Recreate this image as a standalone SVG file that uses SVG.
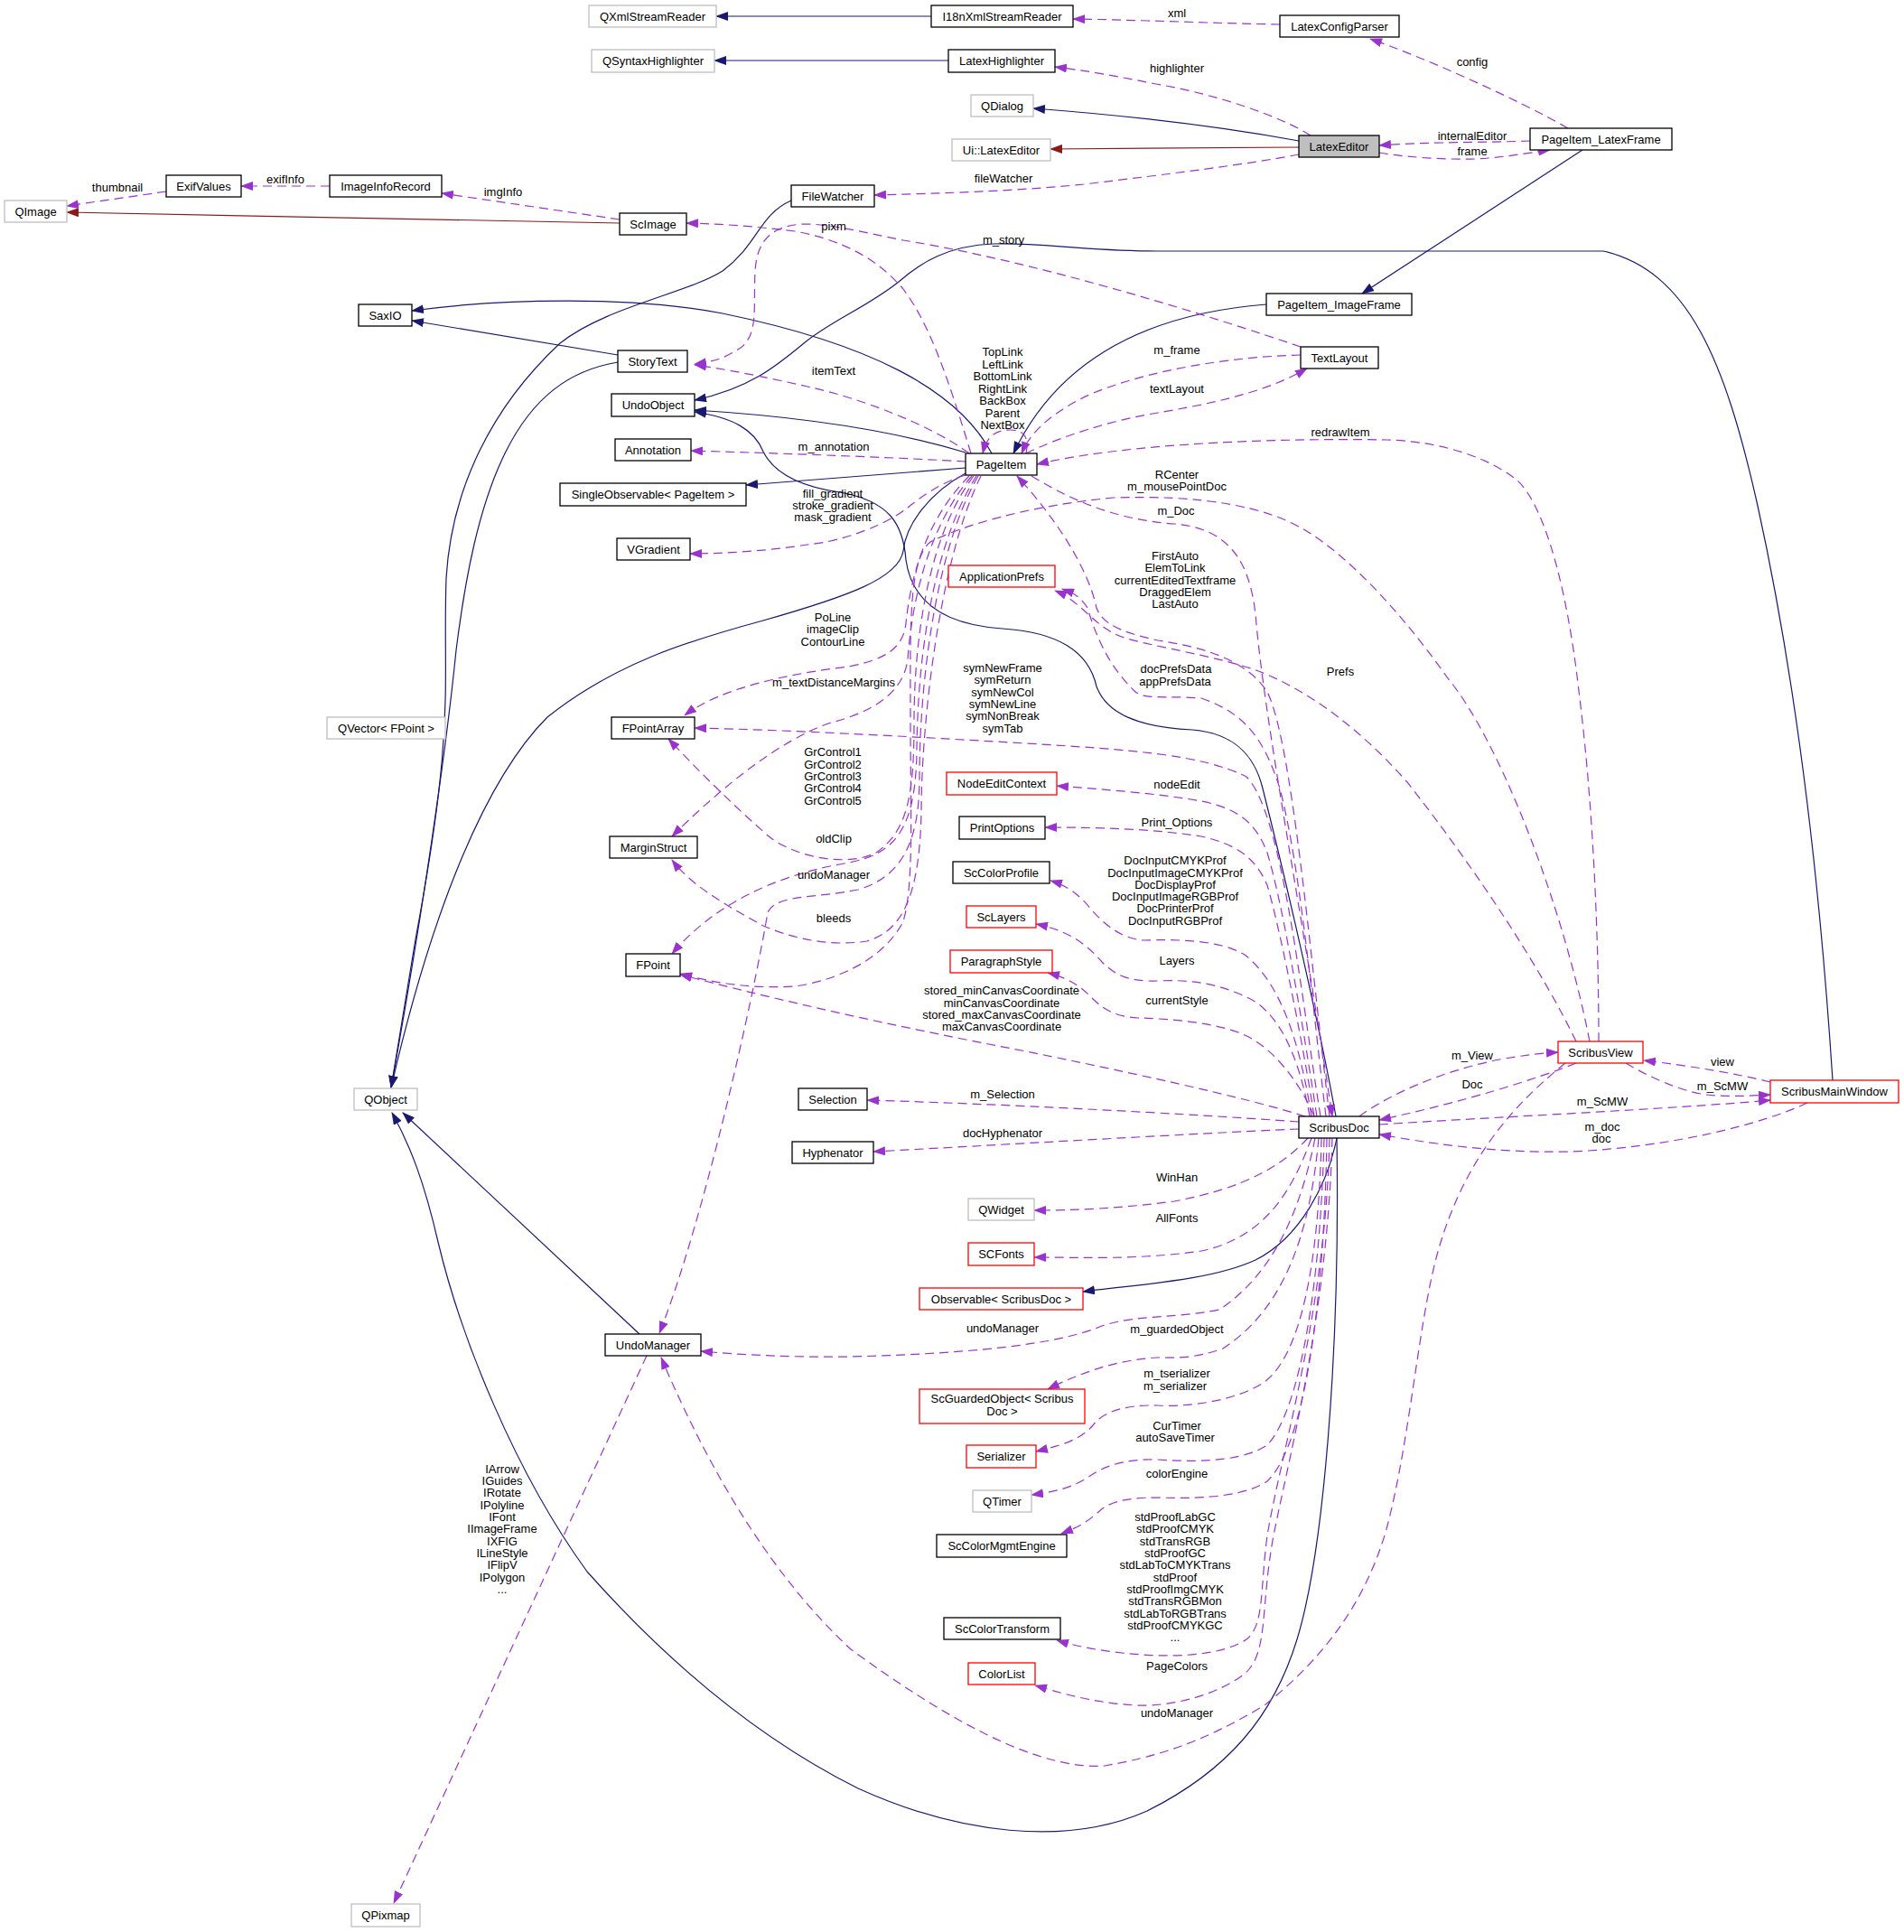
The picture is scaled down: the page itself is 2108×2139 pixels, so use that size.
<svg xmlns="http://www.w3.org/2000/svg" width="2108" height="2139" viewBox="0 0 2108 2139">
<style>
text{font-family:"Liberation Sans",Arial,Helvetica,sans-serif;font-size:13px;text-anchor:middle;fill:#000}
.n rect{fill:#fff;stroke:#000;stroke-width:1.3}
.g rect{stroke:#bfbfbf}
.r rect{stroke:#ff0000}
.c rect{fill:#bfbfbf}
.e{fill:none;stroke:#191970;stroke-width:1.2;marker-end:url(#aN)}
.k{fill:none;stroke:#8b1a1a;stroke-width:1.2;marker-end:url(#aR)}
.d{fill:none;stroke:#9a32cd;stroke-width:1.2;stroke-dasharray:10,6;marker-end:url(#aP)}
</style>
<defs>
<marker id="aN" viewBox="0 0 14 10" refX="13" refY="5" markerWidth="14" markerHeight="10" markerUnits="userSpaceOnUse" orient="auto"><path d="M0,0 L14,5 L0,10 z" fill="#191970"/></marker>
<marker id="aR" viewBox="0 0 14 10" refX="13" refY="5" markerWidth="14" markerHeight="10" markerUnits="userSpaceOnUse" orient="auto"><path d="M0,0 L14,5 L0,10 z" fill="#8b1a1a"/></marker>
<marker id="aP" viewBox="0 0 14 10" refX="13" refY="5" markerWidth="14" markerHeight="10" markerUnits="userSpaceOnUse" orient="auto"><path d="M0,0 L14,5 L0,10 z" fill="#9a32cd"/></marker>
</defs>
<rect width="2108" height="2139" fill="#fff"/>
<g id="edges">
<path class="e" d="M1031,18 L793,18"/>
<path class="e" d="M1050,67 L791,67"/>
<path class="e" d="M1438,156 C1350,140 1250,128 1144,120"/>
<path class="k" d="M1438,163 L1163,165"/>
<path class="e" d="M1752,166 L1508,325"/>
<path class="e" d="M1402,337 C1300,345 1180,380 1122,502"/>
<path class="k" d="M686,247 L74,235"/>
<path class="e" d="M1098,502 C1060,430 960,380 800,347 C700,328 560,330 456,344"/>
<path class="e" d="M684,393 L456,355"/>
<path class="e" d="M876,222 C840,238 840,270 800,300 C760,325 670,340 620,380 C545,450 500,540 494,640 C490,760 505,800 460,1040 L433,1204"/>
<path class="e" d="M684,401 C630,410 590,440 560,500 C530,560 515,640 505,720 C495,820 470,1000 433,1204"/>
<path class="e" d="M1069,524 C1030,545 1003,580 1000,610 C995,640 940,660 845,687 C760,710 680,735 606,794 C540,860 480,1000 433,1204"/>
<path class="e" d="M1069,501 C1000,480 900,462 769,454"/>
<path class="e" d="M1069,518 L826,537"/>
<path class="e" d="M1479,1236 C1460,1130 1420,960 1398,873 C1390,840 1370,812 1320,808 C1260,805 1225,790 1214,760 C1205,720 1170,700 1110,696 C1050,692 1010,670 1003,620 C1000,580 985,555 930,545 C880,538 855,520 845,500 C835,475 810,462 769,456"/>
<path class="e" d="M2029,1196 C2015,980 1990,760 1946,560 C1910,400 1870,300 1775,278 L1281,278 C1200,278 1150,268 1100,270 C1050,272 1020,290 995,312 C960,340 920,355 890,380 C860,405 830,430 769,443"/>
<path class="e" d="M708,1477 L446,1232"/>
<path class="e" d="M1480,1260 C1484,1500 1465,1720 1436,1815 C1410,1900 1360,1960 1270,2005 C1180,2045 1060,2030 950,1980 C830,1920 730,1830 650,1740 C570,1630 510,1480 485,1375 C470,1310 455,1270 434,1232"/>
<path class="e" d="M1480,1260 C1470,1310 1440,1370 1390,1395 C1340,1418 1260,1422 1199,1430"/>
<path class="d" d="M1417,27 C1350,26 1260,22 1188,21"/>
<path class="d" d="M1451,150 C1420,130 1350,105 1280,93 C1230,83 1200,78 1168,74"/>
<path class="d" d="M1736,142 C1680,110 1580,65 1517,43"/>
<path class="d" d="M1694,156 C1640,158 1580,157 1527,161"/>
<path class="d" d="M1527,169 C1560,175 1620,178 1648,175 C1680,172 1700,168 1716,166"/>
<path class="d" d="M1438,171 C1380,182 1300,192 1200,204 C1120,212 1040,214 968,216"/>
<path class="d" d="M184,212 L74,228"/>
<path class="d" d="M365,206 L267,206"/>
<path class="d" d="M686,243 L489,214"/>
<path class="d" d="M1075,502 C1050,420 1030,360 1000,320 C970,285 930,265 880,256 C830,250 800,248 760,247"/>
<path class="d" d="M1440,384 C1340,350 1150,290 1000,266 C950,256 920,248 890,248 C850,250 838,270 836,300 C834,340 840,370 820,385 C800,398 790,400 769,403"/>
<path class="d" d="M1073,502 C1030,470 950,440 894,428 C850,418 800,408 769,404"/>
<path class="d" d="M1069,511 C1000,507 900,503 765,499"/>
<path class="d" d="M1136,502 C1140,482 1132,476 1118,476 C1100,476 1092,485 1088,502"/>
<path class="d" d="M1440,393 C1330,396 1233,421 1190,445 C1160,462 1140,480 1131,502"/>
<path class="d" d="M1136,502 C1170,485 1230,465 1282,457 C1340,447 1400,435 1447,408"/>
<path class="d" d="M1770,1153 C1770,1050 1765,900 1748,765 C1735,650 1710,560 1680,532 C1640,500 1580,488 1535,487 C1420,485 1250,490 1148,514"/>
<path class="d" d="M1760,1153 C1730,1000 1660,820 1603,751 C1560,690 1500,620 1445,587 C1400,560 1330,548 1233,551 C1136,560 1063,583 1030,600 C1005,620 1008,700 1008,800 C1008,900 1012,980 1000,1020 C980,1060 930,1085 880,1092 C830,1095 790,1088 753,1078"/>
<path class="d" d="M1745,1153 C1710,1080 1640,970 1558,866 C1500,800 1440,760 1388,741 C1330,722 1250,712 1233,701 C1210,690 1195,665 1168,654"/>
<path class="d" d="M1468,1236 C1455,1130 1440,960 1417,873 C1400,820 1380,790 1330,773 C1290,770 1270,775 1257,766 C1230,740 1215,710 1204,673 C1195,660 1190,657 1176,652"/>
<path class="d" d="M1142,527 C1180,550 1230,575 1300,580 C1360,585 1383,620 1390,680 C1400,800 1440,1000 1475,1236"/>
<path class="d" d="M1472,1236 C1450,1050 1430,820 1403,766 C1380,730 1330,716 1282,709 C1240,700 1220,690 1214,673 C1205,630 1170,575 1126,527"/>
<path class="d" d="M1069,526 C1040,535 1020,550 1005,562 C980,582 930,600 894,603 C850,610 800,613 764,613"/>
<path class="d" d="M1073,527 C1025,575 1008,640 1003,690 C1000,718 980,730 940,738 C880,745 800,760 758,792"/>
<path class="d" d="M1076,527 C1030,580 1010,660 1005,730 C1000,770 960,790 920,800 C860,820 790,880 744,926"/>
<path class="d" d="M1078,527 C1030,590 1012,700 1012,800 C1012,880 1005,920 970,944 C940,960 880,950 850,925 C810,890 770,850 740,818"/>
<path class="d" d="M1081,527 C1035,600 1016,720 1015,830 C1014,920 990,945 940,955 C880,965 800,990 744,1056"/>
<path class="d" d="M1083,527 C1035,610 1018,760 1018,860 C1018,930 1000,970 950,985 C900,995 860,990 850,1010 C835,1100 780,1350 730,1476"/>
<path class="d" d="M1086,527 C1040,620 1020,800 1020,900 C1018,990 1000,1030 960,1042 C920,1048 880,1040 845,1025 C800,1000 765,980 744,952"/>
<path class="d" d="M1462,1236 C1440,1100 1420,900 1380,860 C1330,835 1250,830 1136,823 C1000,815 870,808 769,806"/>
<path class="d" d="M1458,1236 C1440,1120 1420,1000 1403,944 C1390,910 1370,895 1330,887 C1280,878 1220,874 1170,870"/>
<path class="d" d="M1455,1236 C1440,1140 1415,1020 1403,980 C1390,950 1370,935 1330,926 C1280,918 1220,916 1157,916"/>
<path class="d" d="M1452,1236 C1440,1160 1420,1090 1378,1057 C1350,1040 1300,1040 1267,1041 C1240,1040 1220,1020 1209,1008 C1195,990 1180,980 1163,975"/>
<path class="d" d="M1450,1236 C1440,1180 1420,1120 1378,1103 C1350,1090 1320,1084 1282,1086 C1250,1087 1235,1080 1220,1065 C1200,1042 1180,1030 1147,1023"/>
<path class="d" d="M1455,1236 C1440,1200 1410,1160 1378,1146 C1350,1133 1300,1128 1260,1127 C1230,1125 1220,1115 1210,1106 C1195,1090 1180,1082 1160,1077"/>
<path class="d" d="M1445,1236 C1380,1215 1240,1185 1136,1164 C1000,1138 880,1112 753,1079"/>
<path class="d" d="M1438,1242 C1300,1232 1100,1222 960,1218"/>
<path class="d" d="M1438,1250 C1300,1256 1100,1268 967,1275"/>
<path class="d" d="M1448,1260 C1420,1290 1380,1315 1300,1330 C1240,1338 1190,1340 1145,1340"/>
<path class="d" d="M1452,1260 C1430,1320 1400,1370 1330,1385 C1260,1395 1200,1392 1145,1392"/>
<path class="d" d="M1456,1260 C1440,1340 1410,1410 1350,1450 C1300,1460 1260,1455 1220,1468 C1180,1485 1100,1498 942,1502 C880,1503 820,1500 776,1496"/>
<path class="d" d="M1460,1260 C1450,1370 1420,1450 1354,1493 C1320,1505 1300,1503 1282,1503 C1240,1505 1200,1518 1160,1538"/>
<path class="d" d="M1463,1260 C1460,1400 1440,1500 1400,1530 C1370,1550 1320,1558 1282,1556 C1240,1555 1220,1565 1210,1578 C1195,1595 1175,1600 1147,1607"/>
<path class="d" d="M1466,1260 C1462,1420 1440,1560 1403,1600 C1380,1615 1340,1620 1282,1616 C1240,1615 1220,1625 1204,1636 C1185,1648 1165,1652 1142,1655"/>
<path class="d" d="M1469,1260 C1466,1440 1445,1600 1403,1640 C1380,1655 1340,1660 1282,1658 C1240,1658 1225,1665 1215,1675 C1200,1688 1190,1692 1175,1698"/>
<path class="d" d="M1472,1260 C1468,1450 1420,1600 1403,1700 C1395,1760 1400,1800 1380,1815 C1350,1835 1290,1836 1233,1829 C1210,1826 1190,1822 1170,1816"/>
<path class="d" d="M1475,1260 C1470,1450 1430,1600 1410,1700 C1395,1780 1405,1830 1378,1853 C1350,1875 1300,1890 1257,1888 C1210,1885 1180,1876 1146,1866"/>
<path class="d" d="M1733,1177 C1680,1220 1620,1280 1590,1393 C1570,1470 1560,1600 1535,1693 C1510,1780 1460,1840 1400,1888 C1330,1930 1280,1945 1223,1955 C1150,1960 1050,1905 942,1826 C860,1750 790,1640 732,1503"/>
<path class="d" d="M716,1501 L436,2107"/>
<path class="d" d="M1505,1236 C1540,1210 1600,1185 1660,1173 C1690,1168 1705,1166 1725,1165"/>
<path class="d" d="M1745,1177 C1700,1195 1620,1220 1527,1240"/>
<path class="d" d="M1800,1177 C1830,1195 1870,1212 1900,1213 C1925,1214 1940,1213 1960,1212"/>
<path class="d" d="M1960,1198 C1920,1188 1870,1180 1820,1174"/>
<path class="d" d="M1527,1245 C1650,1237 1850,1228 1960,1218"/>
<path class="d" d="M2001,1221 C1950,1245 1850,1270 1740,1275 C1650,1277 1580,1265 1527,1256"/>
</g>
<g id="labels">
<text x="1303" y="19">xml</text>
<text x="1303" y="80">highlighter</text>
<text x="1630" y="73">config</text>
<text x="1630" y="155">internalEditor</text>
<text x="1630" y="172">frame</text>
<text x="1111" y="202">fileWatcher</text>
<text x="130" y="212">thumbnail</text>
<text x="316" y="203">exifInfo</text>
<text x="557" y="217">imgInfo</text>
<text x="923" y="255">pixm</text>
<text x="1111" y="270">m_story</text>
<text x="923" y="415">itemText</text>
<text x="1110" y="394">TopLink</text>
<text x="1110" y="408">LeftLink</text>
<text x="1110" y="421">BottomLink</text>
<text x="1110" y="435">RightLink</text>
<text x="1110" y="448">BackBox</text>
<text x="1110" y="462">Parent</text>
<text x="1110" y="475">NextBox</text>
<text x="923" y="499">m_annotation</text>
<text x="1303" y="392">m_frame</text>
<text x="1303" y="435">textLayout</text>
<text x="1484" y="483">redrawItem</text>
<text x="1303" y="530">RCenter</text>
<text x="1303" y="543">m_mousePointDoc</text>
<text x="922" y="551">fill_gradient</text>
<text x="922" y="564">stroke_gradient</text>
<text x="922" y="577">mask_gradient</text>
<text x="1302" y="570">m_Doc</text>
<text x="1301" y="620">FirstAuto</text>
<text x="1301" y="633">ElemToLink</text>
<text x="1301" y="647">currentEditedTextframe</text>
<text x="1301" y="660">DraggedElem</text>
<text x="1301" y="673">LastAuto</text>
<text x="922" y="688">PoLine</text>
<text x="922" y="701">imageClip</text>
<text x="922" y="715">ContourLine</text>
<text x="1484" y="748">Prefs</text>
<text x="1302" y="745">docPrefsData</text>
<text x="1301" y="759">appPrefsData</text>
<text x="923" y="760">m_textDistanceMargins</text>
<text x="1110" y="744">symNewFrame</text>
<text x="1110" y="757">symReturn</text>
<text x="1110" y="771">symNewCol</text>
<text x="1110" y="784">symNewLine</text>
<text x="1110" y="797">symNonBreak</text>
<text x="1110" y="811">symTab</text>
<text x="922" y="837">GrControl1</text>
<text x="922" y="851">GrControl2</text>
<text x="922" y="864">GrControl3</text>
<text x="922" y="877">GrControl4</text>
<text x="922" y="891">GrControl5</text>
<text x="1303" y="873">nodeEdit</text>
<text x="1303" y="915">Print_Options</text>
<text x="923" y="933">oldClip</text>
<text x="1301" y="957">DocInputCMYKProf</text>
<text x="1301" y="971">DocInputImageCMYKProf</text>
<text x="1301" y="984">DocDisplayProf</text>
<text x="1301" y="997">DocInputImageRGBProf</text>
<text x="1301" y="1010">DocPrinterProf</text>
<text x="1301" y="1024">DocInputRGBProf</text>
<text x="923" y="973">undoManager</text>
<text x="923" y="1021">bleeds</text>
<text x="1303" y="1068">Layers</text>
<text x="1109" y="1101">stored_minCanvasCoordinate</text>
<text x="1109" y="1115">minCanvasCoordinate</text>
<text x="1109" y="1128">stored_maxCanvasCoordinate</text>
<text x="1109" y="1141">maxCanvasCoordinate</text>
<text x="1303" y="1112">currentStyle</text>
<text x="1630" y="1173">m_View</text>
<text x="1907" y="1180">view</text>
<text x="1630" y="1205">Doc</text>
<text x="1907" y="1207">m_ScMW</text>
<text x="1110" y="1216">m_Selection</text>
<text x="1774" y="1224">m_ScMW</text>
<text x="1774" y="1252">m_doc</text>
<text x="1773" y="1265">doc</text>
<text x="1110" y="1259">docHyphenator</text>
<text x="1303" y="1308">WinHan</text>
<text x="1303" y="1353">AllFonts</text>
<text x="1110" y="1475">undoManager</text>
<text x="1303" y="1476">m_guardedObject</text>
<text x="1303" y="1525">m_tserializer</text>
<text x="1301" y="1539">m_serializer</text>
<text x="1303" y="1583">CurTimer</text>
<text x="1301" y="1596">autoSaveTimer</text>
<text x="1303" y="1636">colorEngine</text>
<text x="1301" y="1684">stdProofLabGC</text>
<text x="1301" y="1697">stdProofCMYK</text>
<text x="1301" y="1711">stdTransRGB</text>
<text x="1301" y="1724">stdProofGC</text>
<text x="1301" y="1737">stdLabToCMYKTrans</text>
<text x="1301" y="1751">stdProof</text>
<text x="1301" y="1764">stdProofImgCMYK</text>
<text x="1301" y="1777">stdTransRGBMon</text>
<text x="1301" y="1791">stdLabToRGBTrans</text>
<text x="1301" y="1804">stdProofCMYKGC</text>
<text x="1301" y="1817">...</text>
<text x="1303" y="1849">PageColors</text>
<text x="1303" y="1901">undoManager</text>
<text x="556" y="1631">IArrow</text>
<text x="556" y="1644">IGuides</text>
<text x="556" y="1657">IRotate</text>
<text x="556" y="1671">IPolyline</text>
<text x="556" y="1684">IFont</text>
<text x="556" y="1697">IImageFrame</text>
<text x="556" y="1711">IXFIG</text>
<text x="556" y="1724">ILineStyle</text>
<text x="556" y="1737">IFlipV</text>
<text x="556" y="1751">IPolygon</text>
<text x="556" y="1764">...</text>
</g>
<g id="QXmlStreamReader" class="n g"><rect x="652" y="6" width="141" height="24"/><text x="722.5" y="22.5">QXmlStreamReader</text></g>
<g id="QSyntaxHighlighter" class="n g"><rect x="655" y="55" width="136" height="25"/><text x="723" y="72">QSyntaxHighlighter</text></g>
<g id="I18nXmlStreamReader" class="n"><rect x="1031" y="6" width="157" height="24"/><text x="1109.5" y="22.5">I18nXmlStreamReader</text></g>
<g id="LatexHighlighter" class="n"><rect x="1050" y="55" width="118" height="25"/><text x="1109" y="72">LatexHighlighter</text></g>
<g id="LatexConfigParser" class="n"><rect x="1417" y="17" width="132" height="24"/><text x="1483" y="33.5">LatexConfigParser</text></g>
<g id="QDialog" class="n g"><rect x="1075" y="105" width="69" height="24"/><text x="1109.5" y="121.5">QDialog</text></g>
<g id="UiLatexEditor" class="n g"><rect x="1054" y="154" width="109" height="24"/><text x="1108.5" y="170.5">Ui::LatexEditor</text></g>
<g id="LatexEditor" class="n c"><rect x="1438" y="150" width="89" height="24"/><text x="1482.5" y="166.5">LatexEditor</text></g>
<g id="PageItem_LatexFrame" class="n"><rect x="1694" y="142" width="157" height="24"/><text x="1772.5" y="158.5">PageItem_LatexFrame</text></g>
<g id="FileWatcher" class="n"><rect x="876" y="205" width="92" height="24"/><text x="922" y="221.5">FileWatcher</text></g>
<g id="ExifValues" class="n"><rect x="184" y="194" width="83" height="24"/><text x="225.5" y="210.5">ExifValues</text></g>
<g id="ImageInfoRecord" class="n"><rect x="365" y="194" width="124" height="24"/><text x="427" y="210.5">ImageInfoRecord</text></g>
<g id="QImage" class="n g"><rect x="5" y="222" width="69" height="24"/><text x="39.5" y="238.5">QImage</text></g>
<g id="ScImage" class="n"><rect x="686" y="236" width="74" height="24"/><text x="723" y="252.5">ScImage</text></g>
<g id="PageItem_ImageFrame" class="n"><rect x="1402" y="325" width="161" height="24"/><text x="1482.5" y="341.5">PageItem_ImageFrame</text></g>
<g id="SaxIO" class="n"><rect x="397" y="337" width="59" height="24"/><text x="426.5" y="353.5">SaxIO</text></g>
<g id="TextLayout" class="n"><rect x="1440" y="384" width="86" height="24"/><text x="1483" y="400.5">TextLayout</text></g>
<g id="StoryText" class="n"><rect x="684" y="388" width="77" height="24"/><text x="722.5" y="404.5">StoryText</text></g>
<g id="UndoObject" class="n"><rect x="677" y="436" width="92" height="25"/><text x="723" y="453">UndoObject</text></g>
<g id="Annotation" class="n"><rect x="681" y="486" width="84" height="24"/><text x="723" y="502.5">Annotation</text></g>
<g id="PageItem" class="n"><rect x="1069" y="502" width="79" height="24"/><text x="1108.5" y="518.5">PageItem</text></g>
<g id="SingleObservable" class="n"><rect x="620" y="535" width="206" height="25"/><text x="723" y="552">SingleObservable&lt; PageItem &gt;</text></g>
<g id="VGradient" class="n"><rect x="683" y="596" width="81" height="24"/><text x="723.5" y="612.5">VGradient</text></g>
<g id="ApplicationPrefs" class="n r"><rect x="1050" y="626" width="118" height="24"/><text x="1109" y="642.5">ApplicationPrefs</text></g>
<g id="QVectorFPoint" class="n g"><rect x="362" y="794" width="131" height="24"/><text x="427.5" y="810.5">QVector&lt; FPoint &gt;</text></g>
<g id="FPointArray" class="n"><rect x="677" y="794" width="92" height="24"/><text x="723" y="810.5">FPointArray</text></g>
<g id="NodeEditContext" class="n r"><rect x="1048" y="855" width="122" height="25"/><text x="1109" y="872">NodeEditContext</text></g>
<g id="PrintOptions" class="n"><rect x="1062" y="904" width="95" height="25"/><text x="1109.5" y="921">PrintOptions</text></g>
<g id="MarginStruct" class="n"><rect x="675" y="926" width="97" height="24"/><text x="723.5" y="942.5">MarginStruct</text></g>
<g id="ScColorProfile" class="n"><rect x="1055" y="954" width="107" height="24"/><text x="1108.5" y="970.5">ScColorProfile</text></g>
<g id="ScLayers" class="n r"><rect x="1070" y="1003" width="77" height="24"/><text x="1108.5" y="1019.5">ScLayers</text></g>
<g id="ParagraphStyle" class="n r"><rect x="1052" y="1052" width="113" height="25"/><text x="1108.5" y="1069">ParagraphStyle</text></g>
<g id="FPoint" class="n"><rect x="693" y="1056" width="60" height="25"/><text x="723" y="1073">FPoint</text></g>
<g id="ScribusView" class="n r"><rect x="1725" y="1153" width="94" height="24"/><text x="1772" y="1169.5">ScribusView</text></g>
<g id="ScribusMainWindow" class="n r"><rect x="1960" y="1196" width="142" height="25"/><text x="2031" y="1213">ScribusMainWindow</text></g>
<g id="QObject" class="n g"><rect x="392" y="1205" width="70" height="24"/><text x="427" y="1221.5">QObject</text></g>
<g id="Selection" class="n"><rect x="884" y="1205" width="76" height="24"/><text x="922" y="1221.5">Selection</text></g>
<g id="ScribusDoc" class="n"><rect x="1438" y="1236" width="89" height="24"/><text x="1482.5" y="1252.5">ScribusDoc</text></g>
<g id="Hyphenator" class="n"><rect x="877" y="1264" width="90" height="24"/><text x="922" y="1280.5">Hyphenator</text></g>
<g id="QWidget" class="n g"><rect x="1072" y="1327" width="73" height="24"/><text x="1108.5" y="1343.5">QWidget</text></g>
<g id="SCFonts" class="n r"><rect x="1072" y="1376" width="73" height="25"/><text x="1108.5" y="1393">SCFonts</text></g>
<g id="ObservableScribusDoc" class="n r"><rect x="1018" y="1426" width="181" height="24"/><text x="1108.5" y="1442.5">Observable&lt; ScribusDoc &gt;</text></g>
<g id="UndoManager" class="n"><rect x="670" y="1477" width="106" height="24"/><text x="723" y="1493.5">UndoManager</text></g>
<g id="ScGuardedObject" class="n r"><rect x="1018" y="1538" width="183" height="38"/><text x="1109.5" y="1553">ScGuardedObject&lt; Scribus</text><text x="1109.5" y="1567">Doc &gt;</text></g>
<g id="Serializer" class="n r"><rect x="1070" y="1600" width="77" height="25"/><text x="1108.5" y="1617">Serializer</text></g>
<g id="QTimer" class="n g"><rect x="1077" y="1650" width="65" height="24"/><text x="1109.5" y="1666.5">QTimer</text></g>
<g id="ScColorMgmtEngine" class="n"><rect x="1037" y="1699" width="144" height="25"/><text x="1109" y="1716">ScColorMgmtEngine</text></g>
<g id="ScColorTransform" class="n"><rect x="1045" y="1791" width="129" height="24"/><text x="1109.5" y="1807.5">ScColorTransform</text></g>
<g id="ColorList" class="n r"><rect x="1072" y="1841" width="74" height="24"/><text x="1109" y="1857.5">ColorList</text></g>
<g id="QPixmap" class="n g"><rect x="389" y="2108" width="76" height="25"/><text x="427" y="2125">QPixmap</text></g>
</svg>
